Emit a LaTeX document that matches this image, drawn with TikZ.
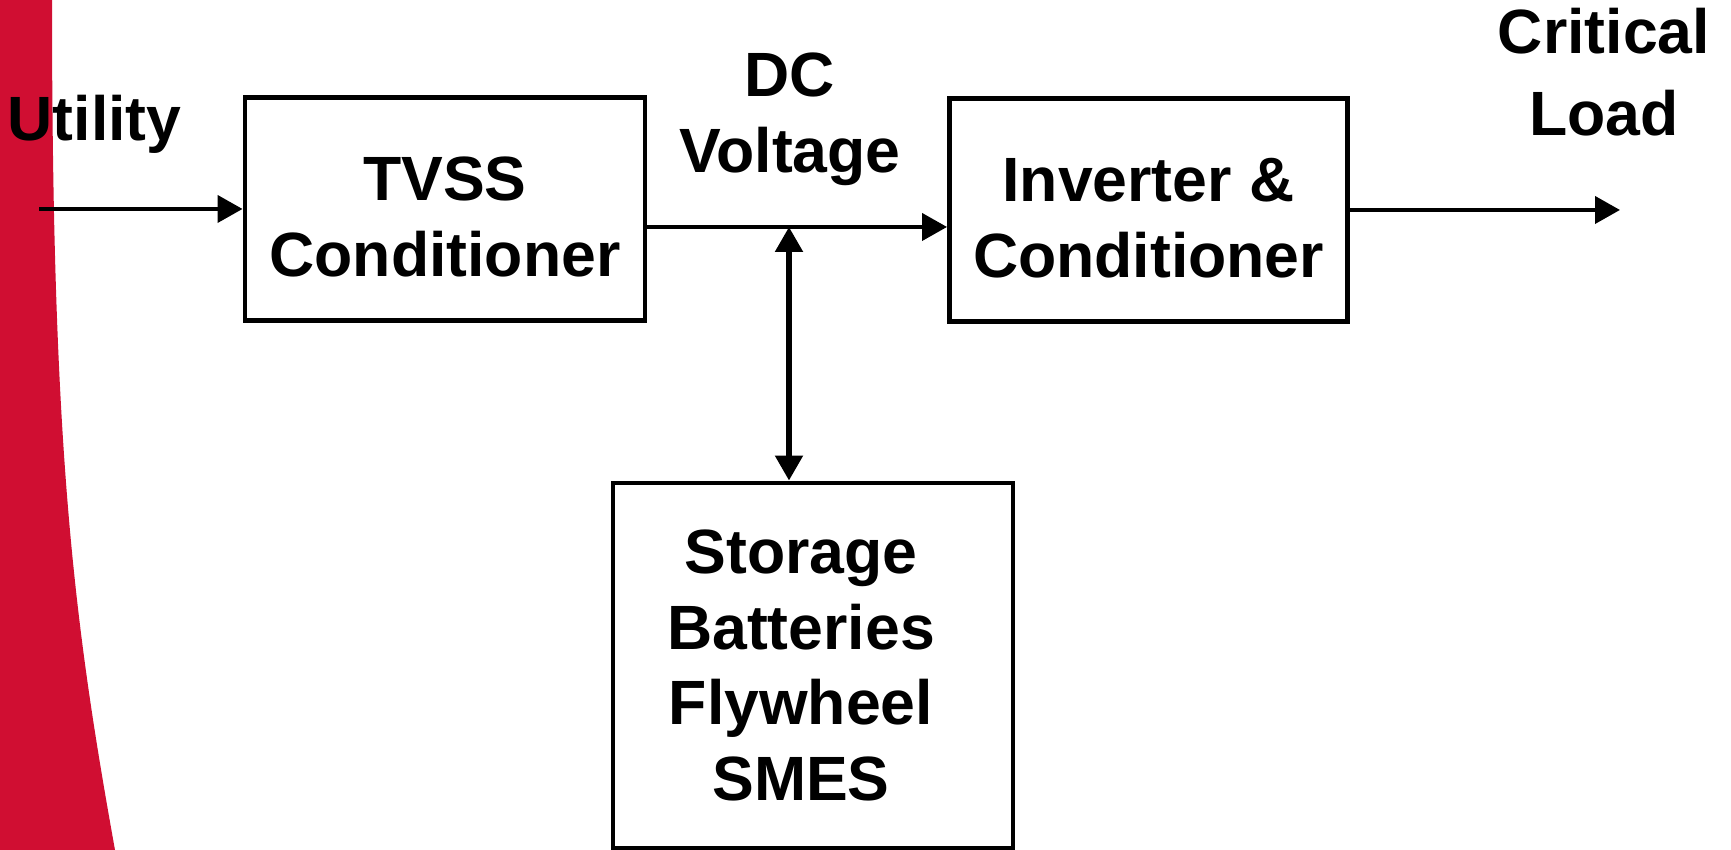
\documentclass[tikz,border=0pt]{standalone}
\usepackage{fontspec}
\setmainfont{Liberation Sans}
\definecolor{upsred}{RGB}{208,14,50}
\usetikzlibrary{arrows.meta,positioning,calc}

\begin{document}
\begin{tikzpicture}[
    blk/.style={rectangle, draw=black, line width=1.4pt, align=center, inner sep=0pt,
      font=\fontsize{17.8}{21.6}\selectfont\bfseries},
    twoline/.style={text height=38.3pt, text depth=0pt},
    lbl/.style={inner sep=0pt, align=center, font=\fontsize{17.8}{21.6}\selectfont\bfseries},
    flow/.style={-{Triangle[length=0.25cm, width=0.27cm]}, line width=1.15pt},
    bothway/.style={{Triangle[length=0.25cm, width=0.27cm]}-{Triangle[length=0.25cm, width=0.27cm]}, line width=1.5pt}
  ]
    \useasboundingbox (0,0) rectangle (17.31,8.5);

    % Red band down the left side
    \fill[upsred] (0,8.5) -- (0.52,8.5) .. controls (0.52,4.0) and (0.736,2.3) .. (1.15,0) -- (0,0) -- cycle;

    % Blocks
    \node[blk, twoline, minimum width=4.0cm, minimum height=2.23cm]  (tvss) at (4.45,6.41)   {TVSS\\Conditioner};
    \node[blk, twoline, minimum width=3.98cm, minimum height=2.23cm] (inv)  at (11.485,6.40) {Inverter \&\\Conditioner};
    \node[blk, minimum width=4.0cm, minimum height=3.65cm]  (stor) at (8.13,1.845) {};
    \node[lbl] (stortext) at ([xshift=-0.12cm]stor.center) {Storage\\Batteries\\Flywheel\\SMES};

    % Labels
    \node[lbl, anchor=north west] (util) at (0.07,7.56)  {Utility};
    \node[lbl, anchor=north]      (dcv)  at (7.90,7.98)  {DC\\Voltage};
    \node[lbl, anchor=north]      (load) at (16.04,8.43) {Critical\\[0.07cm]Load};

    % Connectors
    \coordinate (src) at (0.39,6.41);
    \coordinate (out) at (16.20,6.40);
    \coordinate (dc)  at (7.89,6.23);
    \draw[flow] (src) -- (tvss.west);
    \draw[flow] (tvss.east |- dc) -- (inv.west |- dc);
    \draw[flow] (inv.east) -- (out);
    \draw[bothway] (dc) -- (dc |- stor.north);
\end{tikzpicture}
\end{document}
